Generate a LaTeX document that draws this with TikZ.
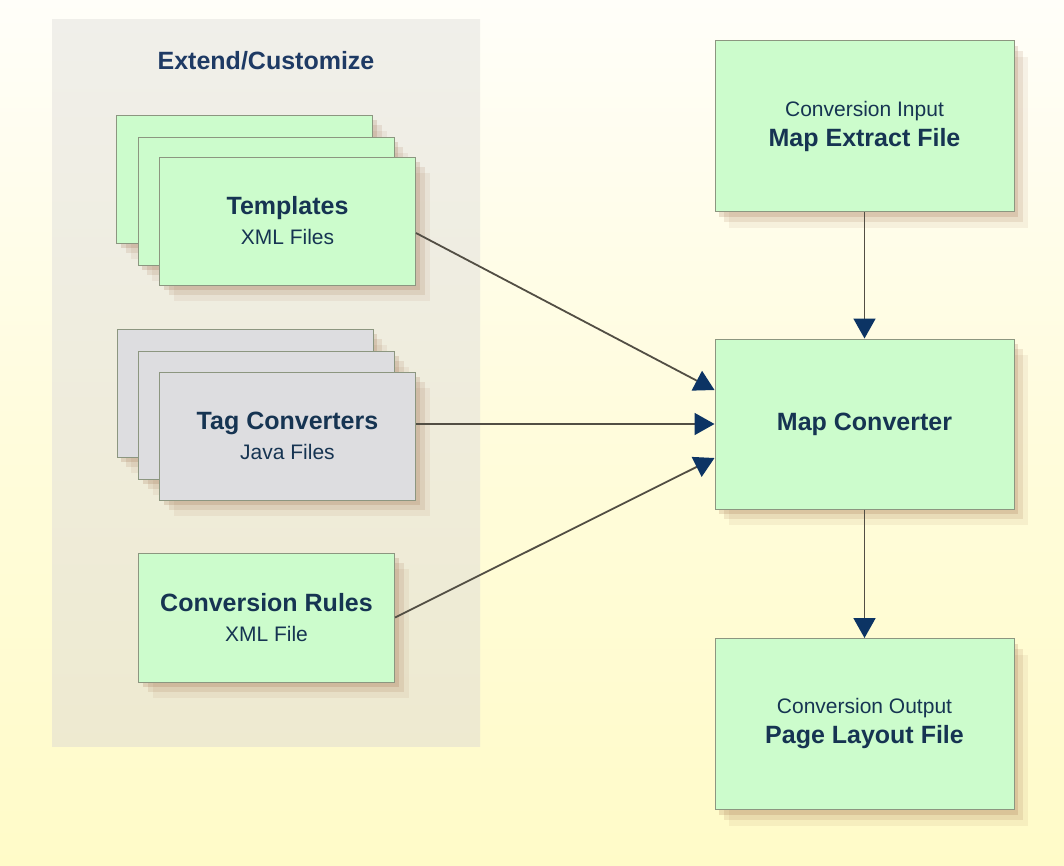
\documentclass[tikz,border=0pt]{standalone}
\usepackage{fontspec}
\setmainfont{Liberation Sans}
\usepackage{tikz}
\usetikzlibrary{arrows.meta,shadows}

\definecolor{bgtop}{RGB}{255,254,249}
\definecolor{bgmid}{RGB}{255,252,220}
\definecolor{bgbot}{RGB}{255,251,200}
\definecolor{paneltop}{RGB}{240,239,234}
\definecolor{panelbot}{RGB}{238,234,208}
\definecolor{boxgreen}{RGB}{204,252,204}
\definecolor{boxgray}{RGB}{221,221,224}
\definecolor{boxedge}{RGB}{140,150,128}
\definecolor{boxtext}{RGB}{22,52,82}
\definecolor{titletext}{RGB}{30,58,100}
\definecolor{flowline}{RGB}{82,78,68}
\definecolor{tipnavy}{RGB}{12,52,100}
\definecolor{shadowc}{RGB}{150,95,60}

\def\bigline{\fontsize{25}{30}\selectfont\bfseries}
\def\smallline{\fontsize{21}{30}\selectfont}

\tikzset{
	softshadow/.style={
		drop shadow={shadow xshift=4pt, shadow yshift=-5pt, opacity=.18, fill=shadowc},
		drop shadow={shadow xshift=9pt, shadow yshift=-10pt, opacity=.13, fill=shadowc},
		drop shadow={shadow xshift=14pt, shadow yshift=-16pt, opacity=.08, fill=shadowc}},
	greenbox/.style={draw=boxedge, line width=1pt, fill=boxgreen, text=boxtext,
		minimum width=256pt, minimum height=128pt, align=center, softshadow,
		font=\fontsize{25}{30}\selectfont},
	graybox/.style={greenbox, fill=boxgray},
	bigbox/.style={greenbox, minimum width=299pt, minimum height=171pt},
	flow/.style={draw=flowline, line width=1.8pt,
		-{Triangle[length=20pt, width=22pt, color=tipnavy]}}
}

\begin{document}
\begin{tikzpicture}[x=1pt, y=-1pt]
		%%%%% START %%%%%
		\useasboundingbox (0,0) rectangle (1064,865);
		\shade[top color=bgtop, bottom color=bgbot, middle color=bgmid] (0,0) rectangle (1064,865);
		
		% extend / customize panel
		\shade[top color=paneltop, bottom color=panelbot] (52,19) rectangle (480,746);
		\node[text=titletext, font=\bigline] (title) at (266,61) {Extend/Customize};
		
		\node[greenbox] (tmplA) at (244.5,179) {};
		\node[greenbox] (tmplB) at (266,201) {};
		\node[greenbox] (tmplC) at (287.5,221) {{\bfseries Templates}\\{\smallline XML Files}};
		
		\node[graybox] (tagA) at (245,393) {};
		\node[graybox] (tagB) at (266.5,415) {};
		\node[graybox] (tagC) at (287.5,436) {{\bfseries Tag Converters}\\{\smallline Java Files}};
		
		\node[greenbox, minimum height=129pt] (rules) at (266.5,617.5) {{\bfseries Conversion Rules}\\{\smallline XML File}};
		
		% conversion chain
		\node[bigbox] (extract) at (864.5,126) {{\smallline Conversion Input}\\{\bfseries Map Extract File}};
		\node[bigbox, minimum height=170pt] (conv) at (864.5,424) {{\bfseries Map Converter}};
		\node[bigbox] (layout) at (864.5,724) {{\smallline Conversion Output}\\{\bfseries Page Layout File}};
		
		\draw[flow] ([yshift=-12pt]tmplC.east) -- ([yshift=34pt]conv.west);
		\draw[flow] ([yshift=12pt]tagC.east) -- (conv.west);
		\draw[flow] (rules.east) -- ([yshift=-34pt]conv.west);
		\draw[flow] (extract) -- (conv);
		\draw[flow] (conv) -- (layout);
		%%%%% END %%%%%
\end{tikzpicture}
\end{document}
